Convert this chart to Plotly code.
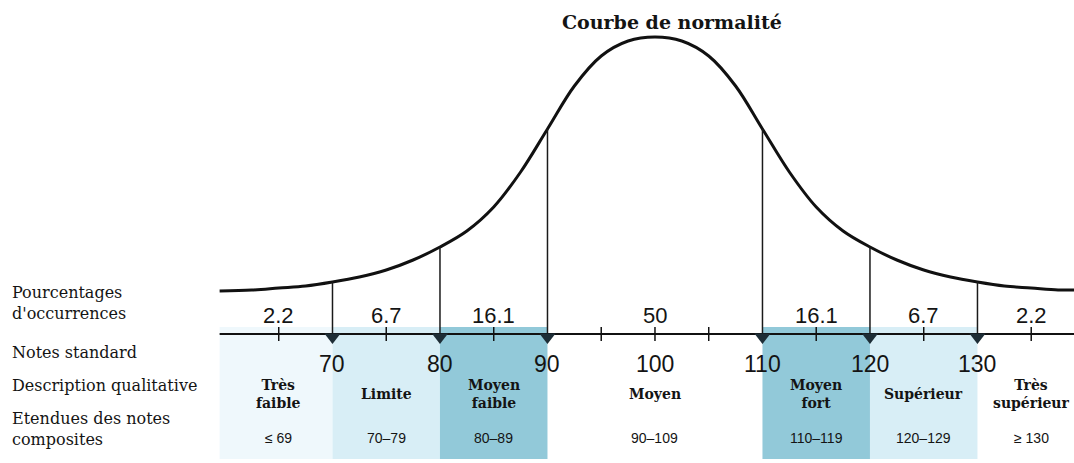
import plotly.graph_objects as go

# --- Courbe de normalité (hauteur au-dessus de l'axe, en unités de tracé) ---
courbe_x = [59.5, 62.5, 65, 67.5, 70, 72.5, 75, 77.5, 80, 82.5, 85, 87.5, 90,
            92.5, 95, 97.5, 100, 102.5, 105, 107.5, 110, 112.5, 115, 117.5, 120,
            122.5, 125, 127.5, 130, 132.5, 135, 137.5, 139]
courbe_h = [43, 44, 46, 48, 52, 57, 64, 74, 87, 103, 127, 162, 205,
            248, 278, 293, 297, 293, 278, 248, 205, 162, 127, 103, 87,
            74, 64, 57, 52, 48, 46, 44, 44]

# --- Classes ---
limites = [59.5, 70, 80, 90, 110, 120, 130, 139]
centres = [65, 75, 85, 100, 115, 125, 135]
pourcentages = ["2.2", "6.7", "16.1", "50", "16.1", "6.7", "2.2"]
descriptions = ["Très<br>faible", "Limite", "Moyen<br>faible", "Moyen",
                "Moyen<br>fort", "Supérieur", "Très<br>supérieur"]
etendues = ["≤ 69", "70–79", "80–89", "90–109", "110–119", "120–129", "≥ 130"]
couleurs = ["#eff8fc", "#d8eef6", "#92c9d9", "#ffffff", "#92c9d9", "#d8eef6", "#ffffff"]

# --- Échelle ---
bornes = [70, 80, 90, 110, 120, 130]
notes_standard = [70, 80, 90, 100, 110, 120, 130]
graduations = [65, 75, 85, 95, 100, 105, 115, 125, 135]

titres_lignes = ["Pourcentages<br>d'occurrences", "Notes standard",
                 "Description qualitative", "Etendues des notes<br>composites"]

SERIF = "DejaVu Serif"
SANS = "Liberation Sans, Arial, sans-serif"
ENCRE = "#141414"

fig = go.Figure()

# Bandes colorées sous l'axe
shapes = []
for i, c in enumerate(couleurs):
    if c == "#ffffff":
        continue
    shapes.append(dict(type="rect", xref="x", yref="y", layer="below",
                       x0=limites[i], x1=limites[i + 1], y0=-125, y1=7,
                       fillcolor=c, line=dict(width=0)))

# Courbe
fig.add_trace(go.Scatter(x=courbe_x, y=courbe_h, mode="lines",
                         line=dict(color="#111111", width=3, shape="spline", smoothing=1.0),
                         hoverinfo="skip"))

# Verticales de la courbe jusqu'à l'axe
vx, vy = [], []
for b in bornes:
    h = courbe_h[courbe_x.index(b)]
    vx += [b, b, None]
    vy += [h, 0, None]
fig.add_trace(go.Scatter(x=vx, y=vy, mode="lines",
                         line=dict(color="#1a1a1a", width=1.5), hoverinfo="skip"))

# Axe horizontal
fig.add_trace(go.Scatter(x=[limites[0], limites[-1]], y=[0, 0], mode="lines",
                         line=dict(color="#111111", width=2), hoverinfo="skip"))

# Graduations
gx, gy = [], []
for g in graduations:
    gx += [g, g, None]
    gy += [-7, 7, None]
fig.add_trace(go.Scatter(x=gx, y=gy, mode="lines",
                         line=dict(color="#111111", width=1.5), hoverinfo="skip"))

# Flèches sur l'axe
fig.add_trace(go.Scatter(x=bornes, y=[-3] * len(bornes), mode="markers",
                         marker=dict(symbol="triangle-down", size=14, color="#1d2d36",
                                     line=dict(width=0)),
                         hoverinfo="skip"))

annotations = []

# Titre
annotations.append(dict(x=101.6, y=312, xref="x", yref="y", text="<b>Courbe de normalité</b>",
                        showarrow=False, font=dict(family=SERIF, size=19, color=ENCRE)))

# Libellés des lignes à gauche
for txt, yy in zip(titres_lignes, [31, -18, -51, -95]):
    annotations.append(dict(x=10 / 1074, y=yy, xref="paper", yref="y", text=txt,
                            xanchor="left", align="left", showarrow=False,
                            font=dict(family=SERIF, size=16, color=ENCRE)))

# Contenu des classes
for cx, p, d, e in zip(centres, pourcentages, descriptions, etendues):
    annotations.append(dict(x=cx, y=19, xref="x", yref="y", text=p, showarrow=False,
                            font=dict(family=SANS, size=22, color=ENCRE)))
    annotations.append(dict(x=cx, y=-60, xref="x", yref="y", text="<b>" + d + "</b>",
                            showarrow=False,
                            font=dict(family=SERIF, size=14, color=ENCRE)))
    annotations.append(dict(x=cx, y=-104, xref="x", yref="y", text=e, showarrow=False,
                            font=dict(family=SANS, size=14, color=ENCRE)))

# Notes standard
for n in notes_standard:
    annotations.append(dict(x=n, y=-30, xref="x", yref="y", text=str(n), showarrow=False,
                            font=dict(family=SANS, size=23, color=ENCRE)))

fig.update_layout(
    width=1074, height=463,
    margin=dict(l=0, r=0, t=0, b=0),
    paper_bgcolor="white", plot_bgcolor="white",
    showlegend=False,
    xaxis=dict(range=[39.07, 138.98], visible=False, fixedrange=True),
    yaxis=dict(range=[-129, 334], visible=False, fixedrange=True),
    shapes=shapes,
    annotations=annotations,
)

fig.write_html("out.html")
